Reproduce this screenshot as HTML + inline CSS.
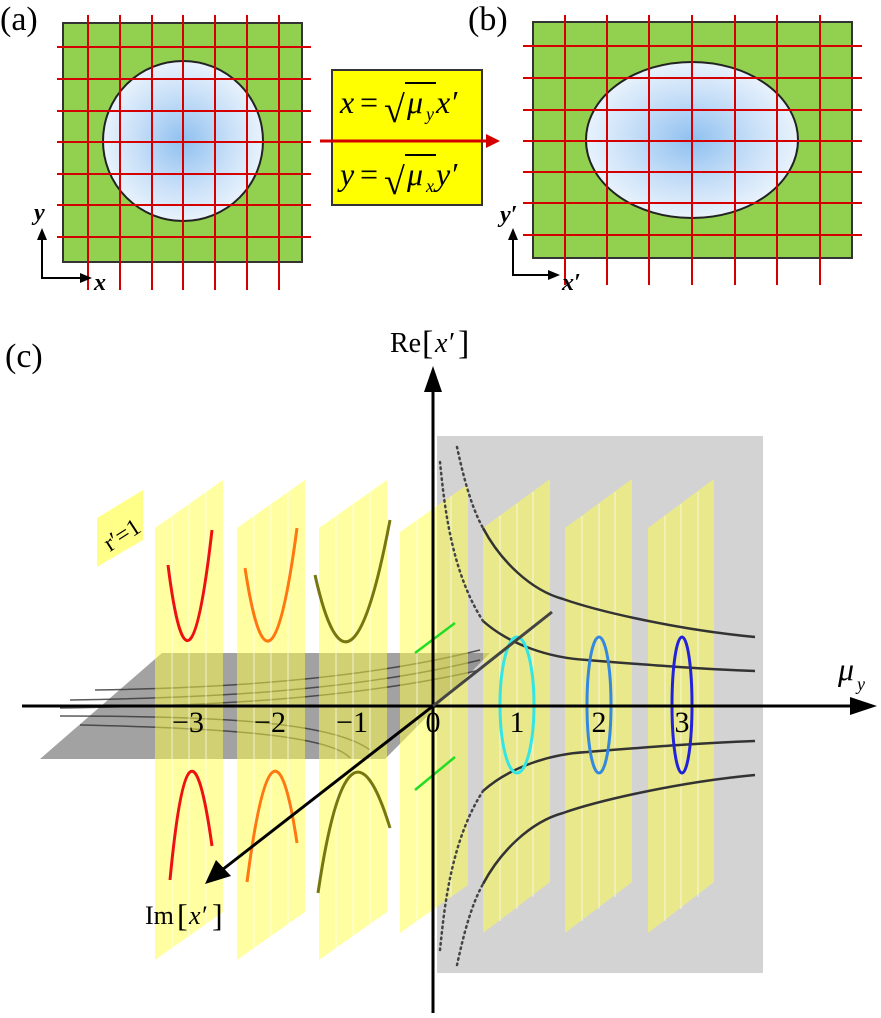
<!DOCTYPE html>
<html><head><meta charset="utf-8"><style>
html,body{margin:0;padding:0;background:#fff;}
svg{display:block;}
text{font-family:"Liberation Serif",serif;}
</style></head><body>
<svg width="881" height="1018" viewBox="0 0 881 1018" xmlns="http://www.w3.org/2000/svg">
<defs>
<radialGradient id="bl" cx="50%" cy="50%" r="50%">
<stop offset="0" stop-color="#8fc0f0"/><stop offset="0.6" stop-color="#c9e0f8"/><stop offset="1" stop-color="#e8f2fc"/>
</radialGradient>
</defs>

<!-- (a) -->
<text x="0" y="30" font-size="34">(a)</text>
<rect x="63" y="23" width="239" height="239" fill="#92d050" stroke="#333" stroke-width="2"/>
<ellipse cx="183" cy="141" rx="80" ry="80" fill="url(#bl)" stroke="#222" stroke-width="2"/>
<g stroke="#d40000" stroke-width="2">
<line x1="88" y1="15" x2="88" y2="290"/><line x1="120" y1="15" x2="120" y2="290"/><line x1="152" y1="15" x2="152" y2="290"/><line x1="183" y1="15" x2="183" y2="290"/><line x1="215" y1="15" x2="215" y2="290"/><line x1="247" y1="15" x2="247" y2="290"/><line x1="279" y1="15" x2="279" y2="290"/>
<line x1="57" y1="47" x2="311" y2="47"/><line x1="57" y1="79" x2="311" y2="79"/><line x1="57" y1="111" x2="311" y2="111"/><line x1="57" y1="142" x2="311" y2="142"/><line x1="57" y1="174" x2="311" y2="174"/><line x1="57" y1="205" x2="311" y2="205"/><line x1="57" y1="237" x2="311" y2="237"/>
</g>
<g stroke="#000" stroke-width="2" fill="none"><polyline points="42,238 42,278 82,278"/></g>
<polygon points="42,228 37,240 47,240" fill="#000"/><polygon points="92,278 80,273 80,283" fill="#000"/>
<text x="34" y="220" font-size="24" font-style="italic" font-weight="bold">y</text>
<text x="94" y="290" font-size="24" font-style="italic" font-weight="bold">x</text>

<!-- box -->
<rect x="332" y="70" width="150" height="135" fill="#ffff00" stroke="#333" stroke-width="2"/>
<text x="340" y="113" font-size="32" font-style="italic">x</text><text x="360" y="113" font-size="32">=</text>
<text x="384" y="122" font-size="38">√</text><line x1="405" y1="83" x2="436" y2="83" stroke="#000" stroke-width="2"/>
<text x="407" y="113" font-size="32" font-style="italic">μ</text><text x="426" y="120" font-size="18" font-style="italic">y</text>
<text x="436" y="113" font-size="32" font-style="italic">x′</text>
<text x="340" y="185" font-size="32" font-style="italic">y</text><text x="360" y="185" font-size="32">=</text>
<text x="384" y="194" font-size="38">√</text><line x1="405" y1="155" x2="436" y2="155" stroke="#000" stroke-width="2"/>
<text x="407" y="185" font-size="32" font-style="italic">μ</text><text x="426" y="192" font-size="18" font-style="italic">x</text>
<text x="436" y="185" font-size="32" font-style="italic">y′</text>
<line x1="320" y1="141" x2="488" y2="141" stroke="#d40000" stroke-width="3"/>
<polygon points="500,141 486,134 486,148" fill="#d40000"/>

<!-- (b) -->
<text x="468" y="30" font-size="34">(b)</text>
<rect x="533" y="22" width="319" height="236" fill="#92d050" stroke="#333" stroke-width="2"/>
<ellipse cx="692" cy="140" rx="106" ry="78" fill="url(#bl)" stroke="#222" stroke-width="2"/>
<g stroke="#d40000" stroke-width="2">
<line x1="565" y1="15" x2="565" y2="285"/><line x1="607" y1="15" x2="607" y2="285"/><line x1="649" y1="15" x2="649" y2="285"/><line x1="692" y1="15" x2="692" y2="285"/><line x1="735" y1="15" x2="735" y2="285"/><line x1="777" y1="15" x2="777" y2="285"/><line x1="820" y1="15" x2="820" y2="285"/>
<line x1="523" y1="46" x2="862" y2="46"/><line x1="523" y1="78" x2="862" y2="78"/><line x1="523" y1="110" x2="862" y2="110"/><line x1="523" y1="141" x2="862" y2="141"/><line x1="523" y1="172" x2="862" y2="172"/><line x1="523" y1="203" x2="862" y2="203"/><line x1="523" y1="235" x2="862" y2="235"/>
</g>
<g stroke="#000" stroke-width="2" fill="none"><polyline points="513,238 513,275 550,275"/></g>
<polygon points="513,228 508,240 518,240" fill="#000"/><polygon points="560,275 548,270 548,280" fill="#000"/>
<text x="500" y="222" font-size="24" font-style="italic" font-weight="bold">y′</text>
<text x="562" y="290" font-size="24" font-style="italic" font-weight="bold">x′</text>

<!-- (c) -->
<text x="5" y="367" font-size="34">(c)</text>
<rect x="437" y="436" width="326" height="537" fill="#d3d3d3"/>

<polygon points="162,653 490,653 385,759 40,759" fill="#7a7a7a" fill-opacity="0.7"/>
<g stroke="#333" stroke-width="1.5" fill="none" opacity="0.8">
<path d="M60,708 C200,706 350,700 480,670"/>
<path d="M70,700 C200,698 350,692 480,660"/>
<path d="M95,690 C220,688 360,680 480,650"/>
<path d="M60,716 C200,716 330,720 370,750"/>
<path d="M80,725 C220,728 330,735 350,758"/>
</g>

<g fill="#ffff44" fill-opacity="0.5">
<polygon points="155,528 223,480 223,912 155,960"/>
<polygon points="237,528 305,480 305,912 237,960"/>
<polygon points="319,528 387,480 387,912 319,960"/>
<polygon points="400,532 468,484 468,885 400,933"/>
<polygon points="483,528 550,479 550,882 483,933"/>
<polygon points="565,528 632,479 632,882 565,933"/>
<polygon points="648,528 714,479 714,882 648,933"/>
</g>
<g stroke="#fff" stroke-width="1" opacity="0.7">
<line x1="172" y1="516" x2="172" y2="948"/><line x1="189" y1="504" x2="189" y2="936"/><line x1="206" y1="492" x2="206" y2="924"/>
<line x1="254" y1="516" x2="254" y2="948"/><line x1="271" y1="504" x2="271" y2="936"/><line x1="288" y1="492" x2="288" y2="924"/>
<line x1="336" y1="516" x2="336" y2="948"/><line x1="353" y1="504" x2="353" y2="936"/><line x1="370" y1="492" x2="370" y2="924"/>
<line x1="417" y1="520" x2="417" y2="921"/><line x1="434" y1="508" x2="434" y2="909"/><line x1="451" y1="496" x2="451" y2="897"/>
<line x1="500" y1="516" x2="500" y2="921"/><line x1="517" y1="504" x2="517" y2="909"/><line x1="533" y1="492" x2="533" y2="897"/>
<line x1="582" y1="516" x2="582" y2="921"/><line x1="599" y1="504" x2="599" y2="909"/><line x1="615" y1="492" x2="615" y2="897"/>
<line x1="665" y1="516" x2="665" y2="921"/><line x1="681" y1="504" x2="681" y2="909"/><line x1="698" y1="492" x2="698" y2="897"/>
</g>

<g fill="none" stroke-width="3">
<path d="M168,565 Q189,732 212,530" stroke="#ee1111"/>
<path d="M170,880 Q189,681 212,846" stroke="#ee1111"/>
<path d="M245,568 Q270,732 297,528" stroke="#ff7711"/>
<path d="M247,882 Q273,682 297,843" stroke="#ff7711"/>
<path d="M315,575 Q350,732 390,520" stroke="#777711"/>
<path d="M318,893 Q348,690 390,828" stroke="#777711"/>
</g>
<g stroke="#22dd22" stroke-width="2.5">
<line x1="415" y1="653" x2="455" y2="623"/><line x1="415" y1="790" x2="455" y2="757"/>
</g>

<g fill="none" stroke="#333" stroke-width="2.5">
<path d="M483,528 C500,560 530,590 563,599 C600,612 680,630 755,637"/>
<path d="M483,621 C510,645 550,658 587,660 C650,665 700,669 755,671"/>
<path d="M483,884 C500,852 530,822 563,813 C600,800 680,782 755,775"/>
<path d="M483,791 C510,767 550,754 587,752 C650,747 700,743 755,741"/>
</g>
<g fill="none" stroke="#444" stroke-width="2.5" stroke-dasharray="1.5 4" stroke-linecap="round">
<path d="M457,447 C462,470 470,505 483,528"/>
<path d="M440,462 C444,500 450,570 483,621"/>
<path d="M457,965 C462,942 470,907 483,884"/>
<path d="M440,950 C444,912 450,842 483,791"/>
</g>
<ellipse cx="517" cy="705" rx="17" ry="68" fill="none" stroke="#33e6e6" stroke-width="3"/>
<ellipse cx="599" cy="705" rx="12" ry="68" fill="none" stroke="#3388e0" stroke-width="3"/>
<ellipse cx="682" cy="705" rx="10" ry="68" fill="none" stroke="#2222dd" stroke-width="3"/>

<line x1="433" y1="1013" x2="433" y2="390" stroke="#000" stroke-width="3"/>
<polygon points="433,366 424,392 442,392" fill="#000"/>
<line x1="22" y1="706" x2="852" y2="706" stroke="#000" stroke-width="3"/>
<polygon points="877,706 850,697 850,715" fill="#000"/>
<line x1="552" y1="612" x2="433" y2="706" stroke="#444" stroke-width="3"/>
<line x1="433" y1="706" x2="222" y2="870" stroke="#000" stroke-width="3"/>
<polygon points="205,884 216,860 231,876" fill="#000"/>

<text x="390" y="352" font-size="28">Re</text><text x="422" y="354" font-size="34">[</text><text x="435" y="352" font-size="28" font-style="italic">x′</text><text x="458" y="354" font-size="34">]</text>
<text x="145" y="924" font-size="26">Im</text><text x="177" y="926" font-size="32">[</text><text x="189" y="924" font-size="26" font-style="italic">x′</text><text x="212" y="926" font-size="32">]</text>
<text x="838" y="680" font-size="32" font-style="italic">μ</text><text x="857" y="690" font-size="18" font-style="italic">y</text>
<g font-size="30" text-anchor="middle">
<text x="188" y="732">−3</text><text x="270" y="732">−2</text><text x="352" y="732">−1</text>
<text x="433" y="732">0</text><text x="517" y="732">1</text><text x="599" y="732">2</text><text x="682" y="732">3</text>
</g>

<polygon points="97,518 143,490 143,540 97,567" fill="#ffff88"/>
<text x="0" y="0" font-size="24" transform="translate(110,552) rotate(-33)">r′=1</text>
</svg>
</body></html>
